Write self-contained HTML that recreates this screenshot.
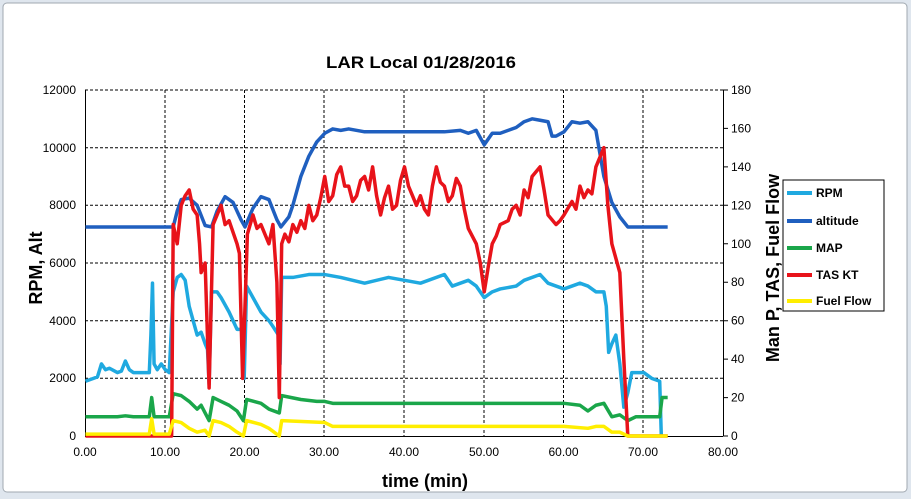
<!DOCTYPE html>
<html><head><style>
body{margin:0;background:#fff;}
svg text{font-family:"Liberation Sans",Arial,sans-serif;}
</style></head><body>
<svg width="911" height="499" xmlns="http://www.w3.org/2000/svg">
<rect x="0" y="0" width="911" height="499" fill="#dfe6ee"/>
<rect x="3" y="3" width="904" height="489" rx="4" fill="#fff" stroke="#a0a8b0"/>
<text x="421" y="68" font-size="17" font-weight="bold" text-anchor="middle" textLength="190" lengthAdjust="spacingAndGlyphs">LAR Local 01/28/2016</text>
<g stroke="#000" stroke-dasharray="3,2" stroke-width="1">
<line x1="85" y1="90" x2="723" y2="90"/><line x1="85" y1="147.7" x2="723" y2="147.7"/><line x1="85" y1="205.3" x2="723" y2="205.3"/><line x1="85" y1="263" x2="723" y2="263"/><line x1="85" y1="320.7" x2="723" y2="320.7"/><line x1="85" y1="378.3" x2="723" y2="378.3"/>
<line x1="165" y1="90" x2="165" y2="436"/><line x1="244.5" y1="90" x2="244.5" y2="436"/><line x1="324" y1="90" x2="324" y2="436"/><line x1="404" y1="90" x2="404" y2="436"/><line x1="484" y1="90" x2="484" y2="436"/><line x1="563.5" y1="90" x2="563.5" y2="436"/><line x1="643" y1="90" x2="643" y2="436"/>
</g>
<g stroke="#000" stroke-width="1" fill="none">
<line x1="85.5" y1="90" x2="85.5" y2="436"/><line x1="723.5" y1="90" x2="723.5" y2="436"/><line x1="85" y1="436.5" x2="723" y2="436.5"/>
<path d="M723,90h5M723,128.4h5M723,166.9h5M723,205.3h5M723,243.8h5M723,282.2h5M723,320.7h5M723,359.1h5M723,397.6h5M723,436h5"/>
</g>
<g font-size="12" text-anchor="end">
<text x="76" y="94">12000</text><text x="76" y="152">10000</text><text x="76" y="209">8000</text><text x="76" y="267">6000</text><text x="76" y="325">4000</text><text x="76" y="382">2000</text><text x="76" y="440">0</text>
</g>
<g font-size="12" text-anchor="start">
<text x="731" y="94">180</text><text x="731" y="132.4">160</text><text x="731" y="170.9">140</text><text x="731" y="209.3">120</text><text x="731" y="247.8">100</text><text x="731" y="286.2">80</text><text x="731" y="324.7">60</text><text x="731" y="363.1">40</text><text x="731" y="401.6">20</text><text x="731" y="440">0</text>
</g>
<g font-size="12" text-anchor="middle">
<text x="85" y="456">0.00</text><text x="165" y="456">10.00</text><text x="244.5" y="456">20.00</text><text x="324" y="456">30.00</text><text x="404" y="456">40.00</text><text x="484" y="456">50.00</text><text x="563.5" y="456">60.00</text><text x="643" y="456">70.00</text><text x="723" y="456">80.00</text>
</g>
<text x="425" y="487" font-size="18" font-weight="bold" text-anchor="middle">time (min)</text>
<text transform="translate(42,268) rotate(-90)" font-size="18" font-weight="bold" text-anchor="middle">RPM, Alt</text>
<text transform="translate(779,268) rotate(-90)" font-size="18" font-weight="bold" text-anchor="middle">Man P, TAS, Fuel Flow</text>
<g fill="none" stroke-width="3.5" stroke-linejoin="round">
<g transform="translate(85.5,436) scale(7.975,-0.028833)">
<polyline vector-effect="non-scaling-stroke" stroke="#1f5fbf" points="0,7250 11,7250 11.5,7800 12,8200 13,8250 14,8000 15,7300 15.8,7250 16.5,7800 17.5,8300 18.5,8100 19.5,7500 20,7250 21,7900 22,8300 23,8200 24,7500 24.5,7250 25.5,7600 26,8000 27,9000 28,9700 29,10200 30,10500 31,10650 32,10600 33,10650 35,10550 40,10550 45,10550 47,10600 48,10500 49,10600 50,10100 51,10500 52,10500 54,10700 55,10900 56,11000 57,10950 58,10900 58.5,10400 59,10400 60,10550 61,10900 62,10850 63,10900 64,10600 65,9000 66,8100 67,7600 68,7250 73,7250"/>
<polyline vector-effect="non-scaling-stroke" stroke="#1fa9e0" points="0,1900 1,2000 1.5,2050 2,2500 2.5,2300 3,2350 4,2200 4.5,2250 5,2600 5.5,2300 6,2200 7,2200 8,2200 8.2,3500 8.4,5300 8.6,2500 9,2300 9.5,2500 10,2300 10.5,2200 11,5000 11.5,5500 12,5600 12.5,5400 13,4500 14,3500 14.5,3600 15,3200 15.3,3000 15.5,1800 15.8,5000 16.5,5000 17,4800 18,4300 18.5,4000 19,3700 19.7,3700 19.9,2000 20.2,5200 21,4800 22,4300 23,4000 23.5,3800 24.2,3500 24.4,2500 24.6,5500 26,5500 28,5600 30,5600 32,5500 35,5300 38,5500 40,5400 42,5300 45,5600 46,5200 48,5400 49,5200 50,4800 51,5000 52,5100 54,5200 55,5400 57,5600 58,5300 60,5100 62,5300 63,5200 64,5000 65,5000 65.3,4500 65.6,2900 66,3200 66.5,3500 67,2500 67.5,1000 68,1500 68.5,2200 70,2200 71,2000 72,1900 72.2,0"/>
</g>
<g transform="translate(85.5,436) scale(7.975,-1.9222)">
<polyline vector-effect="non-scaling-stroke" stroke="#1aa64a" points="0,10 4,10 5,10.5 6,10 8,10 8.3,20 8.6,10 10.5,10 11,22 12,21 13,18 14,14 14.5,16 15,12 15.5,8 16,20 17,18 18,16 19,13 19.8,8 20.2,19 22,17 23,14 24.3,12 24.6,21 27,19 29,18 30,18 31,17 40,17 50,17 60,17 62,16 63,13 64,16 65,17 66,10 67,11 68,8 69,10 72,10 72.3,20 73,20"/>
<polyline vector-effect="non-scaling-stroke" stroke="#e8131a" points="0,0 10.8,0 11,110 11.3,104 11.5,100 12,120 12.5,125 13,128 13.5,118 14,115 14.3,100 14.5,85 15,90 15.5,25 16,110 16.5,115 17,120 17.5,110 18,112 19,100 19.3,95 19.7,30 20.3,105 21,115 21.5,108 22,110 23,100 23.5,110 24,80 24.3,20 24.6,100 25,105 25.5,101 26,110 26.5,106 27,112 27.5,108 28,120 28.5,112 29,115 29.5,124 30,135 30.5,122 31,125 31.5,136 32,140 32.5,130 33,130 33.5,122 34,125 34.5,133 35,135 35.5,128 36,140 36.5,125 37,115 37.5,124 38,130 38.5,118 39,120 39.5,133 40,140 40.5,130 41,125 41.5,120 42,125 42.5,118 43,115 43.5,130 44,140 44.5,132 45,130 45.5,122 46,125 46.5,134 47,130 47.5,118 48,108 49,100 49.5,90 50,75 50.5,88 51,100 51.5,104 52,110 53,112 53.5,118 54,120 54.5,115 55,128 55.5,124 56,135 57,140 57.5,128 58,115 59,110 59.5,112 60,115 61,122 61.5,118 62,130 62.5,124 63,128 63.5,126 64,140 64.5,145 65,150 65.5,120 66,100 67,85 67.5,40 68,0 73,0"/>
<polyline vector-effect="non-scaling-stroke" stroke="#ffee00" points="0,1 8,1 8.3,9 8.6,1 10.5,1 11,8 12,7 13,4 14,2 15,3 15.5,0 16,8 17,7 18,5 19,2 19.8,0 20.2,8 22,6 23,4 24.3,0 24.6,8 30,7 31,5 40,5 50,5 60,5 63,4 64,5 65,5 66,2 67,2 68,0 73,0"/>
</g>
</g>
<rect x="783" y="180" width="101" height="131" fill="#fff" stroke="#000"/>
<g stroke-width="4">
<line x1="787" y1="193" x2="812" y2="193" stroke="#1fa9e0"/>
<line x1="787" y1="221" x2="812" y2="221" stroke="#1f5fbf"/>
<line x1="787" y1="248" x2="812" y2="248" stroke="#1aa64a"/>
<line x1="787" y1="275" x2="812" y2="275" stroke="#e8131a"/>
<line x1="787" y1="301" x2="812" y2="301" stroke="#ffee00"/>
</g>
<g font-size="12" font-weight="bold">
<text x="816" y="197">RPM</text><text x="816" y="225">altitude</text><text x="816" y="252">MAP</text><text x="816" y="279">TAS KT</text><text x="816" y="305">Fuel Flow</text>
</g>
</svg>
</body></html>
